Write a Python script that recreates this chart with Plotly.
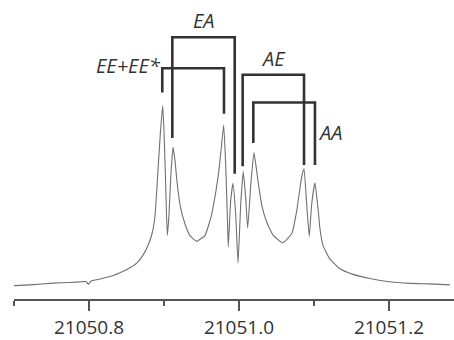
import plotly.graph_objects as go

# Spectrum trace (frequency / arbitrary intensity)
freq = [21050.7000, 21050.7213, 21050.7520, 21050.7747, 21050.7907, 21050.7960, 21050.7991,
        21050.8027, 21050.8147, 21050.8280, 21050.8413, 21050.8507, 21050.8640, 21050.8720,
        21050.8787, 21050.8840, 21050.8880, 21050.8924, 21050.8953, 21050.8983, 21050.9000,
        21050.9017, 21050.9044, 21050.9067, 21050.9089, 21050.9120, 21050.9147, 21050.9169,
        21050.9213, 21050.9280, 21050.9347, 21050.9436, 21050.9547, 21050.9636, 21050.9693,
        21050.9724, 21050.9760, 21050.9796, 21050.9823, 21050.9844, 21050.9857, 21050.9889,
        21050.9920, 21050.9956, 21050.9987, 21051.0023, 21051.0057, 21051.0089, 21051.0116,
        21051.0160, 21051.0200, 21051.0257, 21051.0307, 21051.0369, 21051.0457, 21051.0583,
        21051.0703, 21051.0769, 21051.0813, 21051.0840, 21051.0867, 21051.0903, 21051.0937,
        21051.0969, 21051.1013, 21051.1057, 21051.1080, 21051.1120, 21051.1213, 21051.1347,
        21051.1520, 21051.1747, 21051.1973, 21051.2280, 21051.2547, 21051.2813]
intensity = [0.0548, 0.058, 0.0652, 0.068, 0.0708, 0.072, 0.060,
             0.074, 0.082, 0.092, 0.108, 0.1212, 0.148, 0.180,
             0.220, 0.268, 0.340, 0.548, 0.688, 0.7948, 0.688,
             0.528, 0.2612, 0.348, 0.496, 0.624, 0.568, 0.4948,
             0.388, 0.308, 0.260, 0.2372, 0.2612, 0.348, 0.444,
             0.508, 0.608, 0.7148, 0.548, 0.348, 0.2148, 0.4012,
             0.4748, 0.348, 0.148, 0.388, 0.524, 0.4148, 0.292,
             0.4812, 0.6012, 0.476, 0.380, 0.316, 0.2612, 0.2308,
             0.268, 0.3612, 0.4548, 0.508, 0.5348, 0.388, 0.2572,
             0.388, 0.4772, 0.3612, 0.288, 0.220, 0.164, 0.124,
             0.1012, 0.084, 0.072, 0.064, 0.062, 0.058]

# Assignment brackets: label, left/right line frequency, top level, left/right bottom
bracket_labels = ["EE+EE*", "EA", "AE", "AA"]
bracket_left = [21050.8977, 21050.9111, 21051.0049, 21051.0191]
bracket_right = [21050.9800, 21050.9943, 21051.0867, 21051.1013]
bracket_top = [0.948, 1.0748, 0.9212, 0.8068]
bracket_left_bottom = [0.848, 0.6612, 0.5452, 0.6412]
bracket_right_bottom = [0.7612, 0.5148, 0.5508, 0.5508]

tick_vals = [21050.8, 21051.0, 21051.2]
tick_text = ["21050.8", "21051.0", "21051.2"]

fig = go.Figure()
fig.add_trace(go.Scatter(x=freq, y=intensity, mode="lines",
                         line=dict(color="#707070", width=1.1, shape="spline", smoothing=0.4),
                         hoverinfo="skip"))

for i in range(len(bracket_labels)):
    fig.add_trace(go.Scatter(
        x=[bracket_left[i], bracket_left[i], bracket_right[i], bracket_right[i]],
        y=[bracket_left_bottom[i], bracket_top[i], bracket_top[i], bracket_right_bottom[i]],
        mode="lines", line=dict(color="#333333", width=2.6), hoverinfo="skip"))

label_font = dict(family="Open Sans", size=20, color="#333333", style="italic")
fig.add_annotation(x=bracket_left[0], y=bracket_top[0], text=bracket_labels[0],
                   xanchor="right", yanchor="middle", xshift=1, yshift=3,
                   showarrow=False, font=label_font)
fig.add_annotation(x=(bracket_left[1] + bracket_right[1]) / 2, y=bracket_top[1],
                   text=bracket_labels[1], xanchor="center", yanchor="bottom", yshift=1,
                   showarrow=False, font=label_font)
fig.add_annotation(x=(bracket_left[2] + bracket_right[2]) / 2, y=bracket_top[2],
                   text=bracket_labels[2], xanchor="center", yanchor="bottom", yshift=1,
                   showarrow=False, font=label_font)
fig.add_annotation(x=bracket_right[3], y=(bracket_top[3] + bracket_right_bottom[3]) / 2 + 0.005,
                   text=bracket_labels[3], xanchor="left", yanchor="middle", xshift=1,
                   showarrow=False, font=label_font)

fig.update_layout(
    width=454, height=340,
    margin=dict(l=14, r=0, t=0, b=33),
    paper_bgcolor="white", plot_bgcolor="white",
    showlegend=False,
    xaxis=dict(range=[21050.7, 21051.2867], showgrid=False, zeroline=False,
               showline=True, linecolor="#555555", linewidth=2,
               tickmode="array", tickvals=tick_vals, ticktext=tick_text,
               ticks="outside", ticklen=10, tickwidth=2, tickcolor="#555555",
               tickfont=dict(family="Open Sans", size=19, color="#333333"),
               minor=dict(tickmode="linear", tick0=21050.7, dtick=0.1, ticks="outside",
                          ticklen=5, tickwidth=2, tickcolor="#555555", showgrid=False)),
    yaxis=dict(range=[0, 1.228], visible=False, showgrid=False, zeroline=False),
)

fig.write_html("out.html", config={"displayModeBar": False},
               post_script="document.body.style.margin='0';")
